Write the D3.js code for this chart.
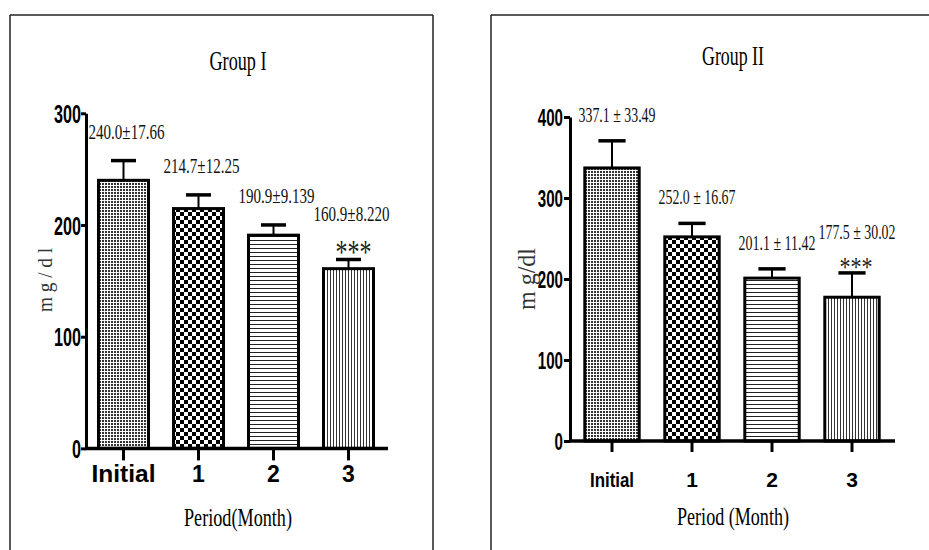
<!DOCTYPE html>
<html>
<head>
<meta charset="utf-8">
<script src="https://cdn.jsdelivr.net/npm/d3@7"></script>
<style>
  html, body { margin: 0; padding: 0; background: #fff; }
  svg { display: block; }
</style>
</head>
<body>
<div id="chart"></div>
<script>
// ---- data ----
const periods = ['Initial', '1', '2', '3'];

const group1Means = [240.0, 214.7, 190.9, 160.9];
const group1Errors = [17.66, 12.25, 9.139, 8.220];
const group1Ticks = [0, 100, 200, 300];

const group2Means = [337.1, 252.0, 201.1, 177.5];
const group2Errors = [33.49, 16.67, 11.42, 30.02];
const group2Ticks = [0, 100, 200, 300, 400];

const significance = ['', '', '', '***'];

// ---- layout ----
const WIDTH = 929;
const HEIGHT = 550;
const SERIF = '"Liberation Serif", "Times New Roman", serif';
const SANS = '"Liberation Sans", Arial, sans-serif';
const FILLS = ['pat-fine', 'pat-check', 'pat-hlines', 'pat-vlines'];

const svg = d3.select('#chart')
  .append('svg')
  .attr('width', WIDTH)
  .attr('height', HEIGHT)
  .attr('viewBox', `0 0 ${WIDTH} ${HEIGHT}`);

function addPatterns(defs) {
  const fine = defs.append('pattern').attr('id', 'pat-fine')
    .attr('patternUnits', 'userSpaceOnUse').attr('width', 3).attr('height', 3);
  fine.append('rect').attr('width', 3).attr('height', 3).attr('fill', '#fff');
  fine.append('rect').attr('width', 2).attr('height', 2).attr('fill', '#333');

  const check = defs.append('pattern').attr('id', 'pat-check')
    .attr('patternUnits', 'userSpaceOnUse').attr('width', 8).attr('height', 8);
  check.append('rect').attr('width', 8).attr('height', 8).attr('fill', '#fff');
  check.append('rect').attr('width', 4).attr('height', 4).attr('fill', '#000');
  check.append('rect').attr('x', 4).attr('y', 4).attr('width', 4).attr('height', 4).attr('fill', '#000');

  const hl = defs.append('pattern').attr('id', 'pat-hlines')
    .attr('patternUnits', 'userSpaceOnUse').attr('width', 4).attr('height', 4);
  hl.append('rect').attr('width', 4).attr('height', 4).attr('fill', '#fff');
  hl.append('rect').attr('width', 4).attr('height', 1).attr('fill', '#222');

  const vl = defs.append('pattern').attr('id', 'pat-vlines')
    .attr('patternUnits', 'userSpaceOnUse').attr('width', 3).attr('height', 3);
  vl.append('rect').attr('width', 3).attr('height', 3).attr('fill', '#fff');
  vl.append('rect').attr('width', 1).attr('height', 3).attr('fill', '#333');
}

addPatterns(svg.append('defs'));

function drawPanel(cfg) {
  const { means, errors, labels, ticks } = cfg;

  // frame: left and top edges, right edge only where the figure has one
  const frame = svg.append('g').attr('fill', 'none').attr('stroke', '#222').attr('stroke-width', 1.5);
  frame.append('line').attr('x1', cfg.frame[0]).attr('x2', cfg.frame[0]).attr('y1', cfg.frame[1]).attr('y2', HEIGHT);
  frame.append('line').attr('x1', cfg.frame[0]).attr('x2', cfg.frame[2]).attr('y1', cfg.frame[1]).attr('y2', cfg.frame[1]);
  if (cfg.rightEdge) {
    frame.append('line').attr('x1', cfg.frame[2]).attr('x2', cfg.frame[2]).attr('y1', cfg.frame[1]).attr('y2', HEIGHT);
  }

  const x = d3.scaleBand()
    .domain(periods)
    .range(cfg.xRange)
    .paddingInner(cfg.pad)
    .paddingOuter(cfg.pad / 2);

  const y = d3.scaleLinear()
    .domain([0, d3.max(ticks)])
    .range(cfg.yRange);

  const g = svg.append('g');

  // bars
  g.selectAll('rect.bar')
    .data(means)
    .join('rect')
    .attr('class', 'bar')
    .attr('x', (d, i) => x(periods[i]))
    .attr('y', (d) => y(d))
    .attr('width', x.bandwidth())
    .attr('height', (d) => y(0) - y(d))
    .attr('fill', (d, i) => `url(#${FILLS[i]})`)
    .attr('stroke', '#000')
    .attr('stroke-width', 3);

  // error bars (upper only)
  const cx = (i) => x(periods[i]) + x.bandwidth() / 2;
  const capW = x.bandwidth() / 2;
  means.forEach((m, i) => {
    g.append('line')
      .attr('x1', cx(i)).attr('x2', cx(i))
      .attr('y1', y(m)).attr('y2', y(m + errors[i]))
      .attr('stroke', '#000').attr('stroke-width', 2);
    g.append('line')
      .attr('x1', cx(i) - capW / 2).attr('x2', cx(i) + capW / 2)
      .attr('y1', y(m + errors[i])).attr('y2', y(m + errors[i]))
      .attr('stroke', '#000').attr('stroke-width', 3.5);
  });

  // y axis
  const yAxis = g.append('g')
    .attr('transform', `translate(${cfg.xAxisStart},0)`)
    .call(d3.axisLeft(y).tickValues(ticks).tickSize(cfg.yTickSize).tickSizeOuter(0).tickPadding(cfg.yTickPad));
  yAxis.select('.domain').attr('stroke', '#000').attr('stroke-width', 3);
  yAxis.selectAll('.tick line').attr('stroke', '#000').attr('stroke-width', 3);
  yAxis.selectAll('.tick text')
    .attr('font-family', SANS)
    .attr('font-weight', 'bold')
    .attr('font-size', cfg.yTickFont)
    .attr('fill', '#000')
    .attr('dy', '0.36em')
    .attr('textLength', (d) => String(d).length * cfg.yDigitW)
    .attr('lengthAdjust', 'spacingAndGlyphs');

  // x axis
  const xAxis = g.append('g')
    .attr('transform', `translate(0,${y(0)})`);
  xAxis.append('line')
    .attr('x1', cfg.xAxisStart).attr('x2', cfg.xAxisEnd)
    .attr('stroke', '#000').attr('stroke-width', 3.5);
  periods.forEach((p, i) => {
    xAxis.append('line')
      .attr('x1', cx(i)).attr('x2', cx(i))
      .attr('y1', 0).attr('y2', cfg.xTickLen)
      .attr('stroke', '#000').attr('stroke-width', 3);
    xAxis.append('text')
      .attr('x', cx(i)).attr('y', cfg.xLabelDy)
      .attr('text-anchor', 'middle')
      .attr('font-family', SANS)
      .attr('font-weight', 'bold')
      .attr('font-size', cfg.xTickFont)
      .attr('textLength', p.length > 1 ? cfg.initialW : null)
      .attr('lengthAdjust', 'spacingAndGlyphs')
      .text(p);
  });

  // value labels and stars
  means.forEach((m, i) => {
    const top = y(m + errors[i]);
    const starred = significance[i] !== '';
    if (starred) {
      g.append('text')
        .attr('x', cx(i) + cfg.starDx)
        .attr('y', top - cfg.starGap)
        .attr('text-anchor', 'middle')
        .attr('font-family', SERIF)
        .attr('font-size', cfg.starFont)
        .attr('fill', '#222')
        .attr('textLength', cfg.starW)
        .attr('lengthAdjust', 'spacingAndGlyphs')
        .text(significance[i]);
    }
    g.append('text')
      .attr('x', cx(i) + cfg.labelDx)
      .attr('y', top - (starred ? cfg.starLabelGap : cfg.labelGap))
      .attr('text-anchor', 'middle')
      .attr('font-family', SERIF)
      .attr('font-size', cfg.labelFont)
      .attr('fill', '#111')
      .attr('textLength', cfg.labelW)
      .attr('lengthAdjust', 'spacingAndGlyphs')
      .text(labels[i]);
  });

  // titles
  svg.append('text')
    .attr('x', cfg.titleX).attr('y', cfg.titleY)
    .attr('text-anchor', 'middle')
    .attr('font-family', SERIF)
    .attr('font-size', cfg.titleFont)
    .attr('textLength', cfg.titleW)
    .attr('lengthAdjust', 'spacingAndGlyphs')
    .text(cfg.title);

  svg.append('text')
    .attr('x', cfg.titleX).attr('y', cfg.xTitleY)
    .attr('text-anchor', 'middle')
    .attr('font-family', SERIF)
    .attr('font-size', cfg.xTitleFont)
    .attr('textLength', cfg.xTitleW)
    .attr('lengthAdjust', 'spacingAndGlyphs')
    .text(cfg.xTitle);

  svg.append('text')
    .attr('transform', `translate(${cfg.yTitlePos[0]},${cfg.yTitlePos[1]}) rotate(-90)`)
    .attr('text-anchor', 'middle')
    .attr('font-family', SERIF)
    .attr('font-size', cfg.yTitleFont)
    .attr('fill', '#333')
    .attr('textLength', cfg.yTitleW)
    .attr('lengthAdjust', 'spacingAndGlyphs')
    .text(cfg.yTitle);
}

const fmtMean = d3.format('.1f');

drawPanel({
  means: group1Means,
  errors: group1Errors,
  labels: group1Means.map((m, i) => `${fmtMean(m)}±${d3.format('.4g')(group1Errors[i])}`),
  ticks: group1Ticks,
  frame: [10, 15, 433],
  rightEdge: true,
  xRange: [86, 386],
  pad: 1 / 3,
  yRange: [448.4, 113.3],
  xAxisStart: 86,
  xAxisEnd: 388,
  yTickSize: 5,
  yTickPad: 0,
  yTickFont: 25,
  yDigitW: 9,
  xTickLen: 12,
  xLabelDy: 34,
  xTickFont: 23,
  initialW: 64,
  labelDx: 3,
  labelGap: 22,
  starLabelGap: 38,
  labelFont: 22,
  labelW: 76,
  starDx: 5,
  starGap: -4,
  starFont: 34,
  starW: 36,
  title: 'Group I',
  titleX: 238,
  titleY: 70,
  titleFont: 28,
  titleW: 57,
  xTitle: 'Period(Month)',
  xTitleY: 526,
  xTitleFont: 26,
  xTitleW: 108,
  yTitle: 'm g / d l',
  yTitlePos: [52, 280],
  yTitleFont: 22,
  yTitleW: 64,
});

drawPanel({
  means: group2Means,
  errors: group2Errors,
  labels: group2Means.map((m, i) => `${fmtMean(m)} ± ${d3.format('.2f')(group2Errors[i])}`),
  ticks: group2Ticks,
  frame: [491, 15, 929],
  rightEdge: false,
  xRange: [572, 892],
  pad: 0.32,
  yRange: [441, 117],
  xAxisStart: 570,
  xAxisEnd: 895,
  yTickSize: 6,
  yTickPad: 1,
  yTickFont: 23,
  yDigitW: 8.4,
  xTickLen: 11,
  xLabelDy: 46,
  xTickFont: 21,
  initialW: 44,
  labelDx: 5,
  labelGap: 19,
  starLabelGap: 34,
  labelFont: 22,
  labelW: 77,
  starDx: 4,
  starGap: -3,
  starFont: 28,
  starW: 33,
  title: 'Group II',
  titleX: 733,
  titleY: 65,
  titleFont: 27,
  titleW: 62,
  xTitle: 'Period (Month)',
  xTitleY: 525,
  xTitleFont: 25,
  xTitleW: 112,
  yTitle: 'm g/dl',
  yTitlePos: [535, 279],
  yTitleFont: 25,
  yTitleW: 62,
});
</script>
</body>
</html>
